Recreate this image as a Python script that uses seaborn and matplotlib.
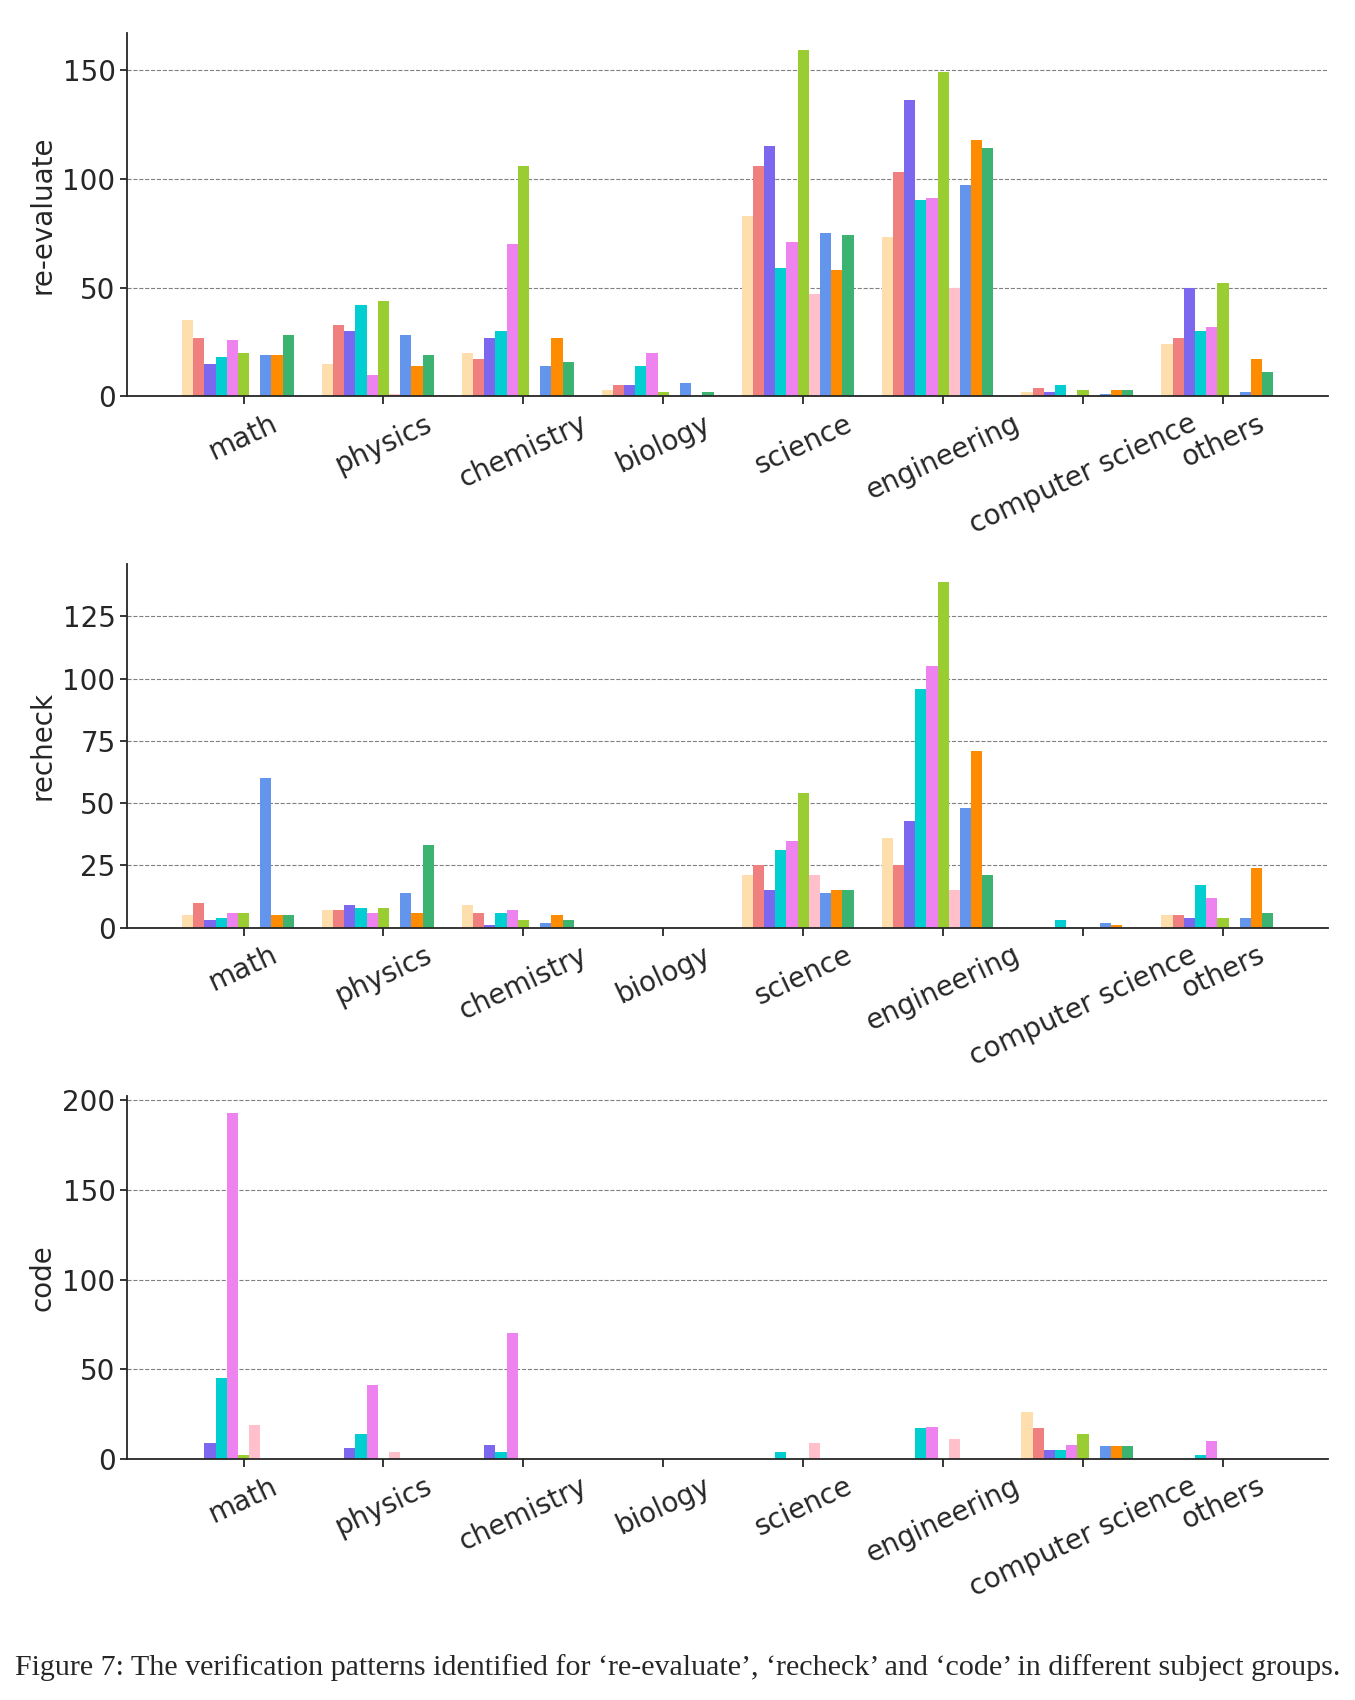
import numpy as np
import pandas as pd
import matplotlib
matplotlib.use("Agg")
import matplotlib.pyplot as plt
from matplotlib.ticker import MultipleLocator
import seaborn as sns

subjects = ["math", "physics", "chemistry", "biology", "science",
            "engineering", "computer science", "others"]
series = [f"s{i}" for i in range(1, 11)]
colors = ["navajowhite", "lightcoral", "mediumslateblue", "darkturquoise", "violet",
          "yellowgreen", "pink", "cornflowerblue", "darkorange", "mediumseagreen"]

# one row per series, one column per subject
reevaluate = [
    [35, 15, 20, 3, 83, 73, 2, 24],
    [27, 33, 17, 5, 106, 103, 4, 27],
    [15, 30, 27, 5, 115, 136, 2, 50],
    [18, 42, 30, 14, 59, 90, 5, 30],
    [26, 10, 70, 20, 71, 91, 0, 32],
    [20, 44, 106, 2, 159, 149, 3, 52],
    [0, 1, 0, 0, 47, 50, 0, 0],
    [19, 28, 14, 6, 75, 97, 1, 2],
    [19, 14, 27, 0, 58, 118, 3, 17],
    [28, 19, 16, 2, 74, 114, 3, 11],
]
recheck = [
    [5, 7, 9, 0, 21, 36, 0, 5],
    [10, 7, 6, 0, 25, 25, 0, 5],
    [3, 9, 1, 0, 15, 43, 0, 4],
    [4, 8, 6, 0, 31, 96, 3, 17],
    [6, 6, 7, 0, 35, 105, 0, 12],
    [6, 8, 3, 0, 54, 139, 0, 4],
    [0, 0, 0, 0, 21, 15, 0, 0],
    [60, 14, 2, 0, 14, 48, 2, 4],
    [5, 6, 5, 0, 15, 71, 1, 24],
    [5, 33, 3, 0, 15, 21, 0, 6],
]
code = [
    [0, 0, 0, 0, 0, 0, 26, 0],
    [0, 0, 0, 0, 0, 0, 17, 0],
    [9, 6, 8, 0, 0, 0, 5, 0],
    [45, 14, 4, 0, 4, 17, 5, 2],
    [193, 41, 70, 0, 0, 18, 8, 10],
    [2, 0, 0, 0, 0, 0, 14, 0],
    [19, 4, 0, 0, 9, 11, 0, 0],
    [0, 0, 0, 0, 0, 0, 7, 0],
    [0, 0, 0, 0, 0, 0, 7, 0],
    [0, 0, 0, 0, 0, 0, 7, 0],
]

panels = [("re-evaluate", reevaluate, 50), ("recheck", recheck, 25), ("code", code, 50)]

sns.set_style("ticks")
plt.rcParams["font.size"] = 20
plt.rcParams["axes.linewidth"] = 1.3

fig, axes = plt.subplots(3, 1, figsize=(13.55, 17), dpi=100)
fig.subplots_adjust(left=0.094, right=0.98, top=0.9806, bottom=0.1418, hspace=0.462)

for ax, (name, values, step) in zip(axes, panels):
    df = pd.DataFrame(values, index=series, columns=subjects)
    df = df.reset_index().melt(id_vars="index", var_name="subject", value_name="count")
    df = df.rename(columns={"index": "series"})

    sns.barplot(data=df, x="subject", y="count", hue="series",
                order=subjects, hue_order=series, palette=colors,
                width=0.8, saturation=1, errorbar=None, legend=False,
                linewidth=0, ax=ax)

    ax.yaxis.grid(True, linestyle="--", color="gray", linewidth=0.8)
    ax.set_axisbelow(True)
    ax.yaxis.set_major_locator(MultipleLocator(step))
    ax.set_xticks(np.arange(len(subjects)) + 0.04)
    ax.set_xticklabels(subjects, rotation=25, fontsize=20)
    ax.set_xlim(-0.79, 7.79)
    ax.set_xlabel("")
    ax.set_ylabel(name, fontsize=20)
    ax.tick_params(axis="y", labelsize=20, width=1.3, length=5)
    ax.tick_params(axis="x", width=1.3, length=6)
    sns.despine(ax=ax)

fig.text(0.5, 0.0194,
         "Figure 7: The verification patterns identified for \u2018re-evaluate\u2019, "
         "\u2018recheck\u2019 and \u2018code\u2019 in different subject groups.",
         ha="center", va="center", fontsize=21.6, family="Liberation Serif")

plt.savefig("out.png", dpi=100)
